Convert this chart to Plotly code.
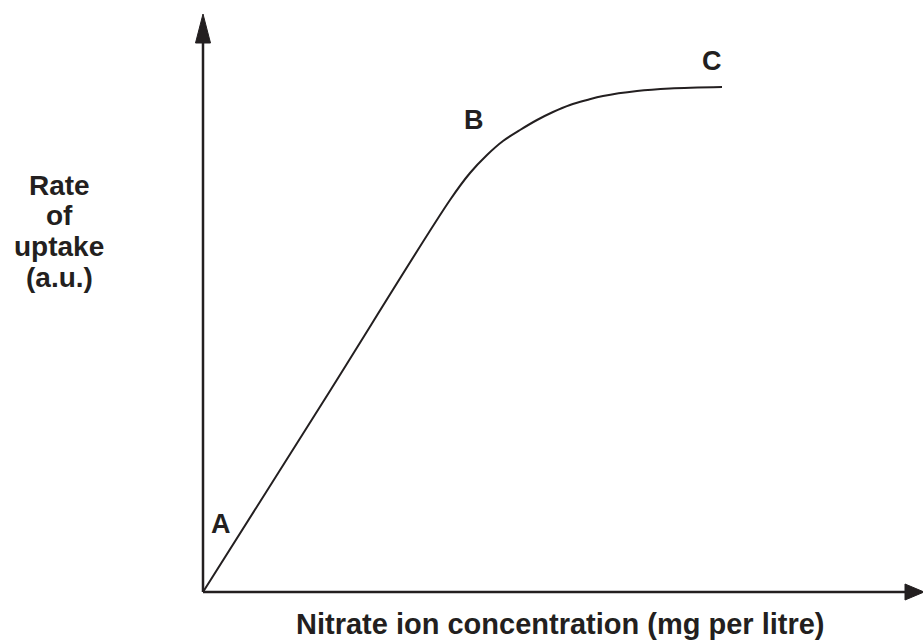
import plotly.graph_objects as go

# Data (arbitrary units)
conc = [0, 120, 247, 267, 284, 300, 317, 334, 350, 367, 384, 400, 434, 467, 519]
rate = [0, 190, 392, 419, 437, 451, 462, 472, 480, 487, 492, 496, 501, 503.5, 505]

point_labels = ["A", "B", "C"]
label_x = [18, 271, 509]
label_y = [68, 472, 531]

x_title = "Nitrate ion concentration (mg per litre)"
y_title_lines = ["Rate", "of", "uptake", "(a.u.)"]
y_title_pos = [407, 377, 346, 315]

FONT = "Liberation Sans, Arial, sans-serif"
INK = "#231f20"

fig = go.Figure()
fig.add_trace(go.Scatter(x=conc, y=rate, mode="lines",
                         line=dict(color=INK, width=2, shape="spline", smoothing=1.0),
                         hoverinfo="skip", showlegend=False))

for t, x, y in zip(point_labels, label_x, label_y):
    fig.add_annotation(x=x, y=y, text=f"<b>{t}</b>", showarrow=False,
                       xanchor="center", yanchor="middle",
                       font=dict(family=FONT, size=27, color=INK))

# axes lines
fig.add_shape(type="line", x0=0, y0=0, x1=0, y1=555, line=dict(color=INK, width=2.5))
fig.add_shape(type="line", x0=0, y0=0, x1=705, y1=0, line=dict(color=INK, width=2.5))
# arrow heads
fig.add_shape(type="path", path="M -7.5,549 L 7.5,549 L 0,578 Z",
              fillcolor=INK, line=dict(color=INK, width=1))
fig.add_shape(type="path", path="M 702,-8 L 702,8 L 721,0 Z",
              fillcolor=INK, line=dict(color=INK, width=1))

fig.add_annotation(xref="x", yref="paper", x=357, y=0, yshift=-19,
                   xanchor="center", yanchor="middle",
                   text=f"<b>{x_title}</b>", showarrow=False,
                   font=dict(family=FONT, size=29, color=INK))
for t, y in zip(y_title_lines, y_title_pos):
    fig.add_annotation(xref="paper", yref="y", x=0, y=y, xshift=-131,
                       xanchor="center", yanchor="middle",
                       text=f"<b>{t}</b>", showarrow=False,
                       font=dict(family=FONT, size=28, color=INK))

fig.update_layout(
    width=923, height=642,
    margin=dict(l=190, r=0, t=10, b=37),
    paper_bgcolor="white", plot_bgcolor="white",
    xaxis=dict(range=[-13, 720], visible=False, fixedrange=True),
    yaxis=dict(range=[-13, 582], visible=False, fixedrange=True),
    showlegend=False,
)
fig.write_html("out.html", config={"displayModeBar": False},
               post_script="document.body.style.margin='0';document.body.style.overflow='hidden';")
